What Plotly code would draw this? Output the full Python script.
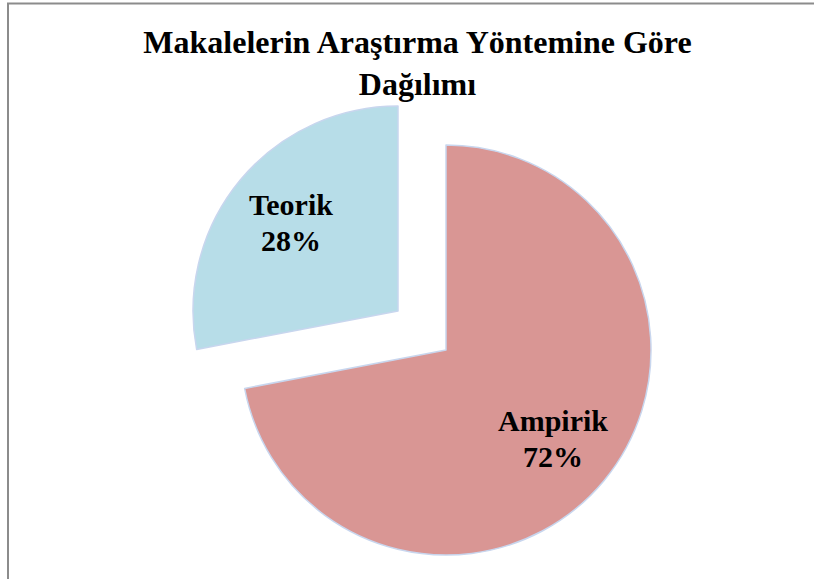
import math
import plotly.graph_objects as go

# data
labels = ["Ampirik", "Teorik"]
values = [72, 28]
colors = ["#D99694", "#B7DDE8"]
title_text = "Makalelerin Araştırma Yöntemine Göre<br>Dağılımı"

W, H = 814, 579
EDGE = "#C8D6EE"
CLEAR = "rgba(0,0,0,0)"
FONT = "Liberation Serif"

# pie layout in pixels: radius, centre of the main pie and of the pulled slice
R = 205
CENTERS = [(446, 350), (398, 311)]
LABEL_POS = 0.68
LINE_GAP = 18


def domain_for(cx, cy):
    return dict(x=[(cx - R) / W, (cx + R) / W],
                y=[(H - cy - R) / H, (H - cy + R) / H])


def pie_trace(show_idx):
    # one trace per visible slice so the exploded slice keeps full radius
    fill = [c if i == show_idx else CLEAR for i, c in enumerate(colors)]
    edge = [EDGE if i == show_idx else CLEAR for i in range(len(labels))]
    return go.Pie(
        labels=labels,
        values=values,
        sort=False,
        direction="clockwise",
        rotation=0,
        marker=dict(colors=fill, line=dict(color=edge, width=1.5)),
        textinfo="none",
        domain=domain_for(*CENTERS[show_idx]),
        hoverinfo="skip",
        showlegend=False,
    )


fig = go.Figure()
annotations = []
total = sum(values)
start = 0.0
for i in range(len(labels)):
    fig.add_trace(pie_trace(i))
    mid = (start + values[i] / 2) / total * 2 * math.pi
    start += values[i]
    cx, cy = CENTERS[i]
    px = cx + LABEL_POS * R * math.sin(mid)
    py = cy - LABEL_POS * R * math.cos(mid)
    pct = round(values[i] / total * 100)
    # label name and percent as two lines
    for txt, dy in ((labels[i], -LINE_GAP), ("%d%%" % pct, LINE_GAP)):
        annotations.append(dict(
            text="<b>" + txt + "</b>",
            x=px / W, y=1 - (py + dy) / H, xref="paper", yref="paper",
            xanchor="center", yanchor="middle", showarrow=False,
            font=dict(family=FONT, size=30, color="black"),
        ))

fig.update_layout(
    width=W,
    height=H,
    margin=dict(l=0, r=0, t=0, b=0),
    paper_bgcolor="white",
    plot_bgcolor="white",
    title=dict(
        text="<b>" + title_text + "</b>",
        x=417.5 / W,
        xanchor="center",
        y=1 - 53 / H,
        yanchor="top",
        font=dict(family=FONT, size=32, color="black"),
    ),
    annotations=annotations,
    shapes=[
        dict(type="rect", xref="paper", yref="paper",
             x0=8 / W, x1=1.05, y0=-0.05, y1=1 - 3.5 / H,
             line=dict(color="#8C8C8C", width=2), fillcolor=CLEAR, layer="below"),
    ],
)

# page has a default 8px body margin; drop it so the chart sits at the corner
fig.write_html("out.html", config={"displayModeBar": False},
               post_script="document.body.style.margin='0';")
